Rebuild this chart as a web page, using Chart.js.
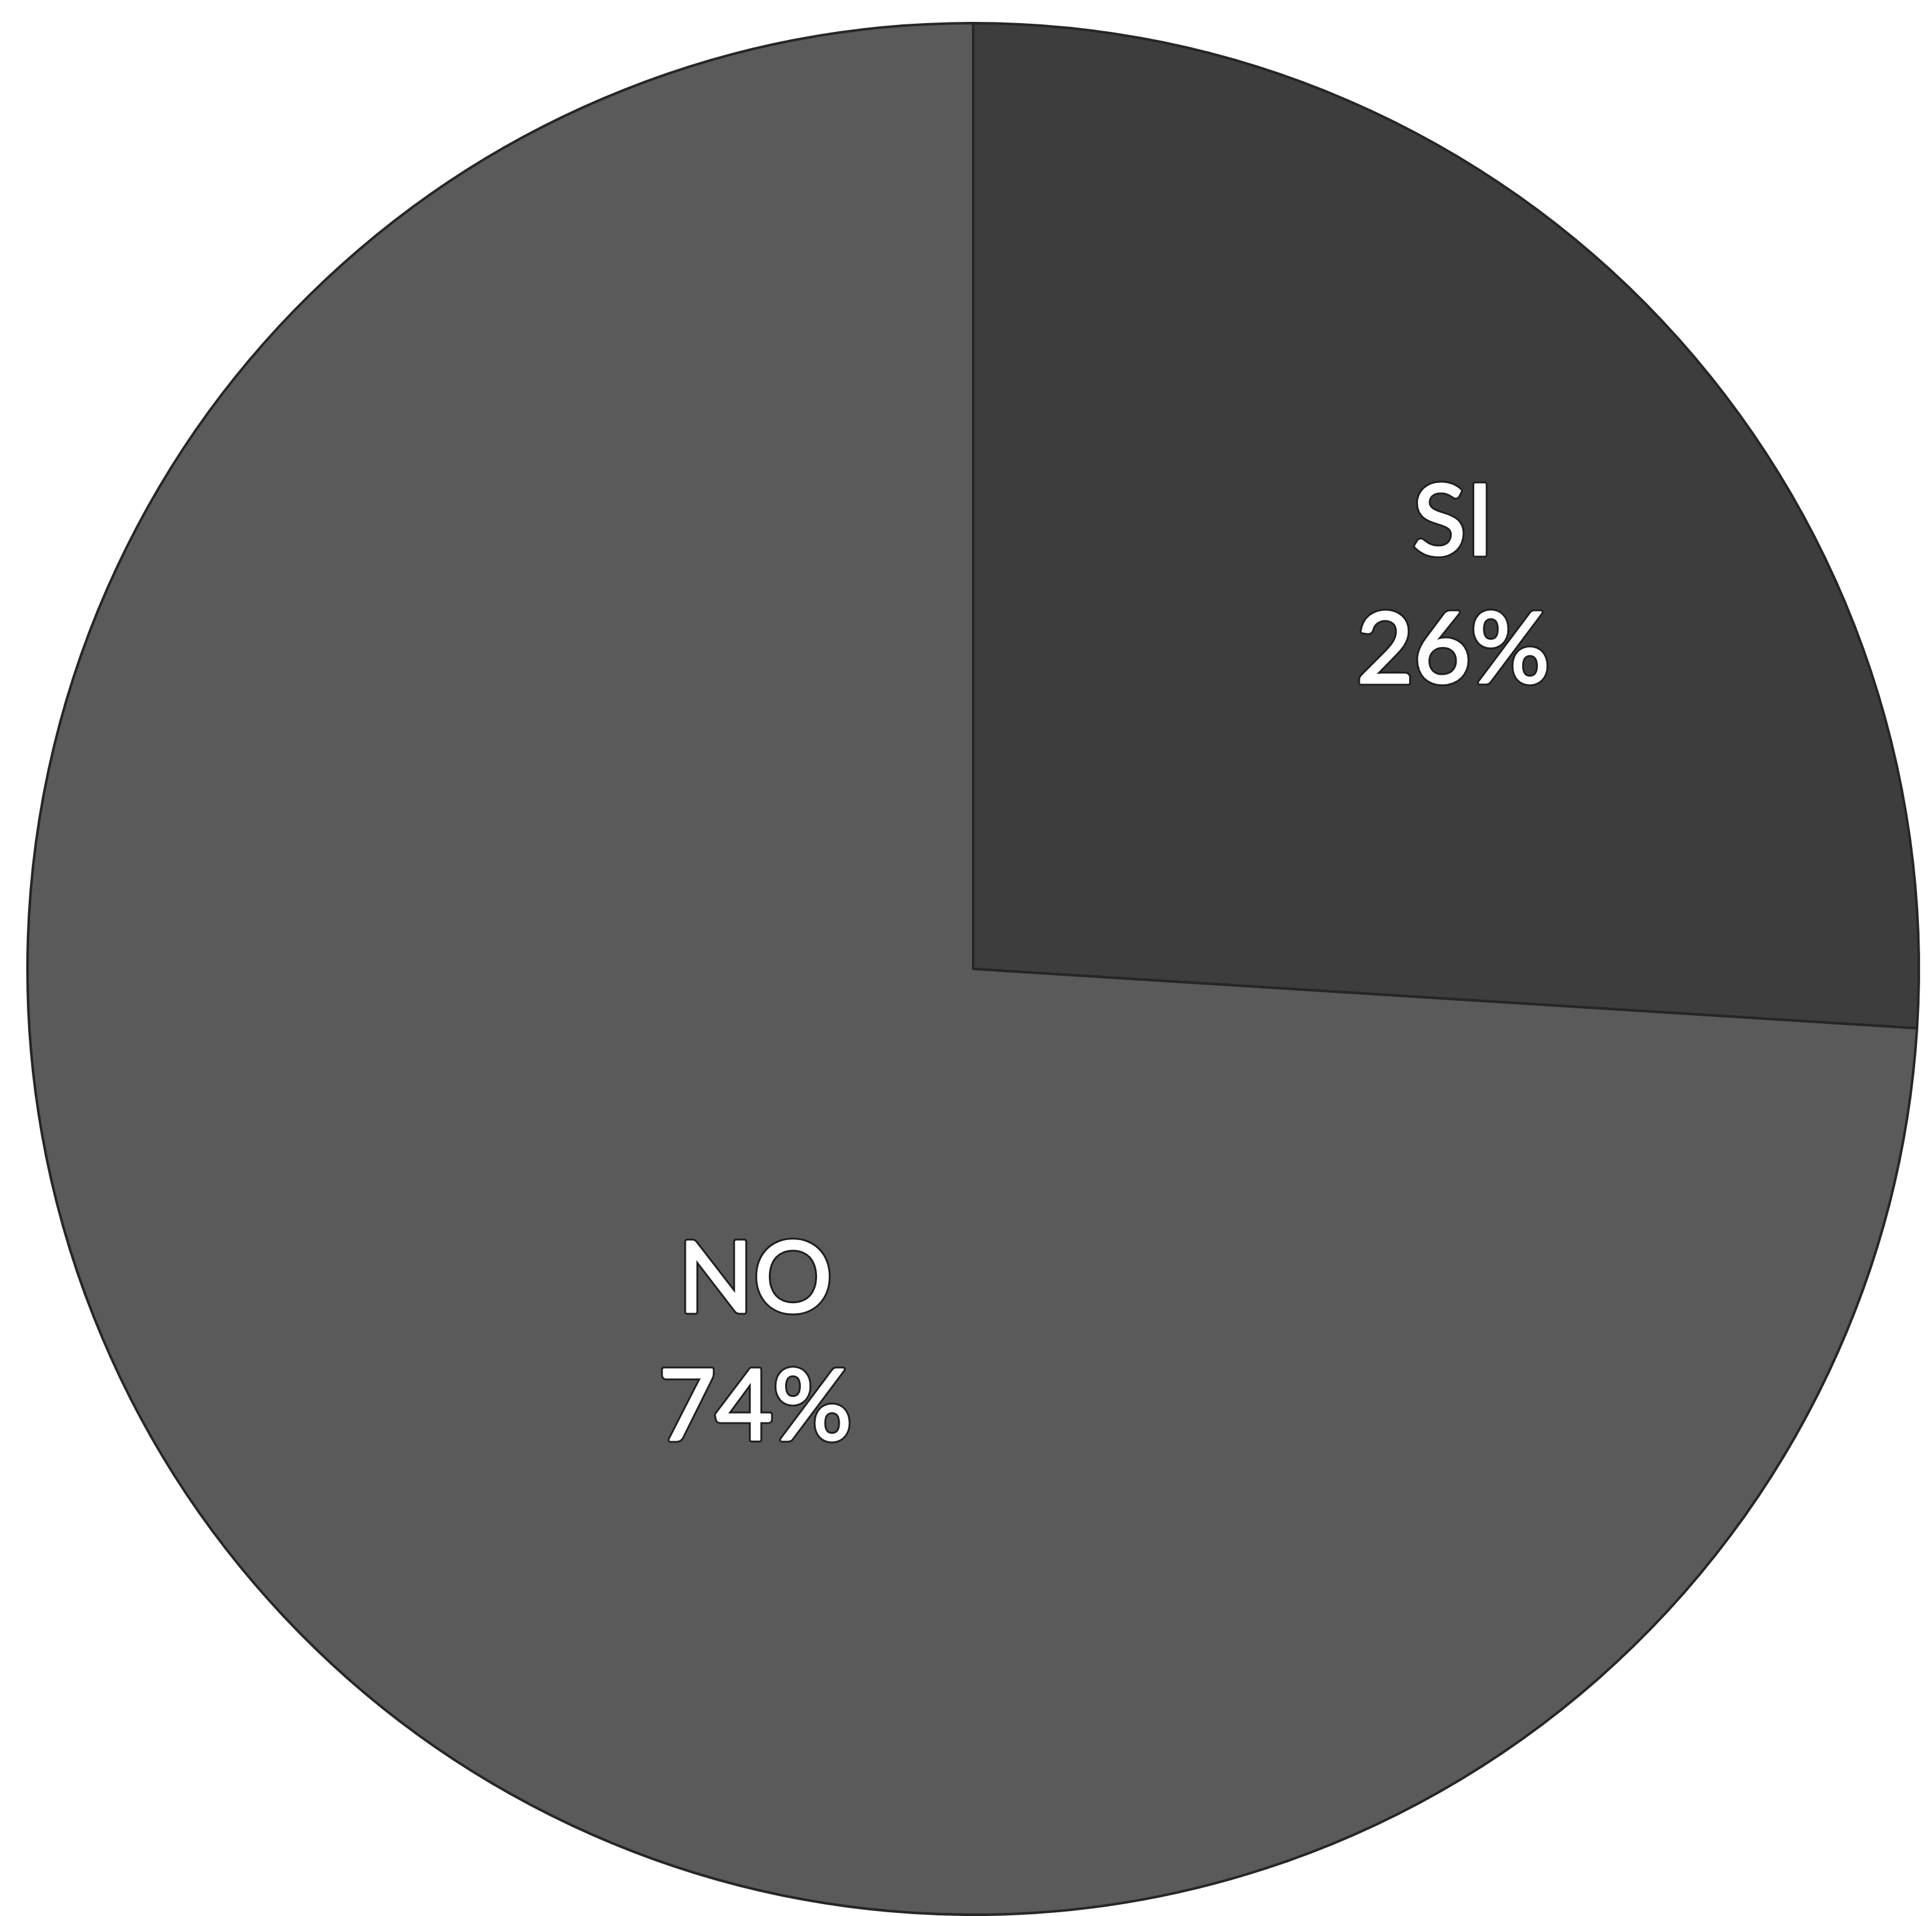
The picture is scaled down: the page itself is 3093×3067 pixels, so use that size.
<!DOCTYPE html>
<html>
<head>
<meta charset="utf-8">
<script src="https://cdn.jsdelivr.net/npm/chart.js@4/dist/chart.umd.min.js"></script>
<style>
  html, body { margin: 0; padding: 0; background: #ffffff; overflow: hidden; }
  #wrap { width: 3093px; height: 3067px; }
</style>
</head>
<body>
<div id="wrap"><canvas id="myChart"></canvas></div>
<script>
// data
const labels = ['SI', 'NO'];
const values = [26, 74];
const sliceColors = ['#3d3d3d', '#5a5a5a'];

// where each label sits inside its slice: fraction of radius, angle shift from mid (deg)
const labelPlace = [
    { frac: 0.655, shift: 4 },
    { frac: 0.45, shift: -16 }
];

const pieLabels = {
    id: 'pieLabels',
    afterDatasetsDraw(chart) {
        const ctx = chart.ctx;
        const meta = chart.getDatasetMeta(0);
        const total = values.reduce((a, b) => a + b, 0);
        ctx.save();
        ctx.font = '400 158px Lato';
        ctx.textAlign = 'center';
        ctx.textBaseline = 'alphabetic';
        ctx.lineJoin = 'round';
        meta.data.forEach((arc, i) => {
            const p = arc.getProps(['x', 'y', 'startAngle', 'endAngle', 'outerRadius'], true);
            const mid = (p.startAngle + p.endAngle) / 2 + labelPlace[i].shift * Math.PI / 180;
            const r = p.outerRadius * labelPlace[i].frac;
            const cx = p.x + Math.cos(mid) * r;
            const cy = p.y + Math.sin(mid) * r;
            const pct = Math.round(values[i] / total * 100) + '%';
            const lines = [labels[i], pct];
            lines.forEach((t, k) => {
                const y = cy - 36 + k * 205;
                ctx.lineWidth = 9;
                ctx.strokeStyle = '#1e1e1e';
                ctx.strokeText(t, cx, y);
                ctx.lineWidth = 3;
                ctx.strokeStyle = '#ffffff';
                ctx.strokeText(t, cx, y);
                ctx.fillStyle = '#ffffff';
                ctx.fillText(t, cx, y);
            });
        });
        ctx.restore();
    }
};

const ctx = document.getElementById('myChart').getContext('2d');
const myChart = new Chart(ctx, {
    type: 'pie',
    data: {
        labels: labels,
        datasets: [{
            data: values,
            backgroundColor: sliceColors,
            borderColor: '#262626',
            borderWidth: 4
        }]
    },
    options: {
        responsive: true,
        maintainAspectRatio: false,
        animation: false,
        layout: {
            padding: { left: 40, right: 17, top: 35, bottom: 0 }
        },
        plugins: {
            legend: { display: false },
            tooltip: { enabled: false }
        }
    },
    plugins: [pieLabels]
});
</script>
</body>
</html>
